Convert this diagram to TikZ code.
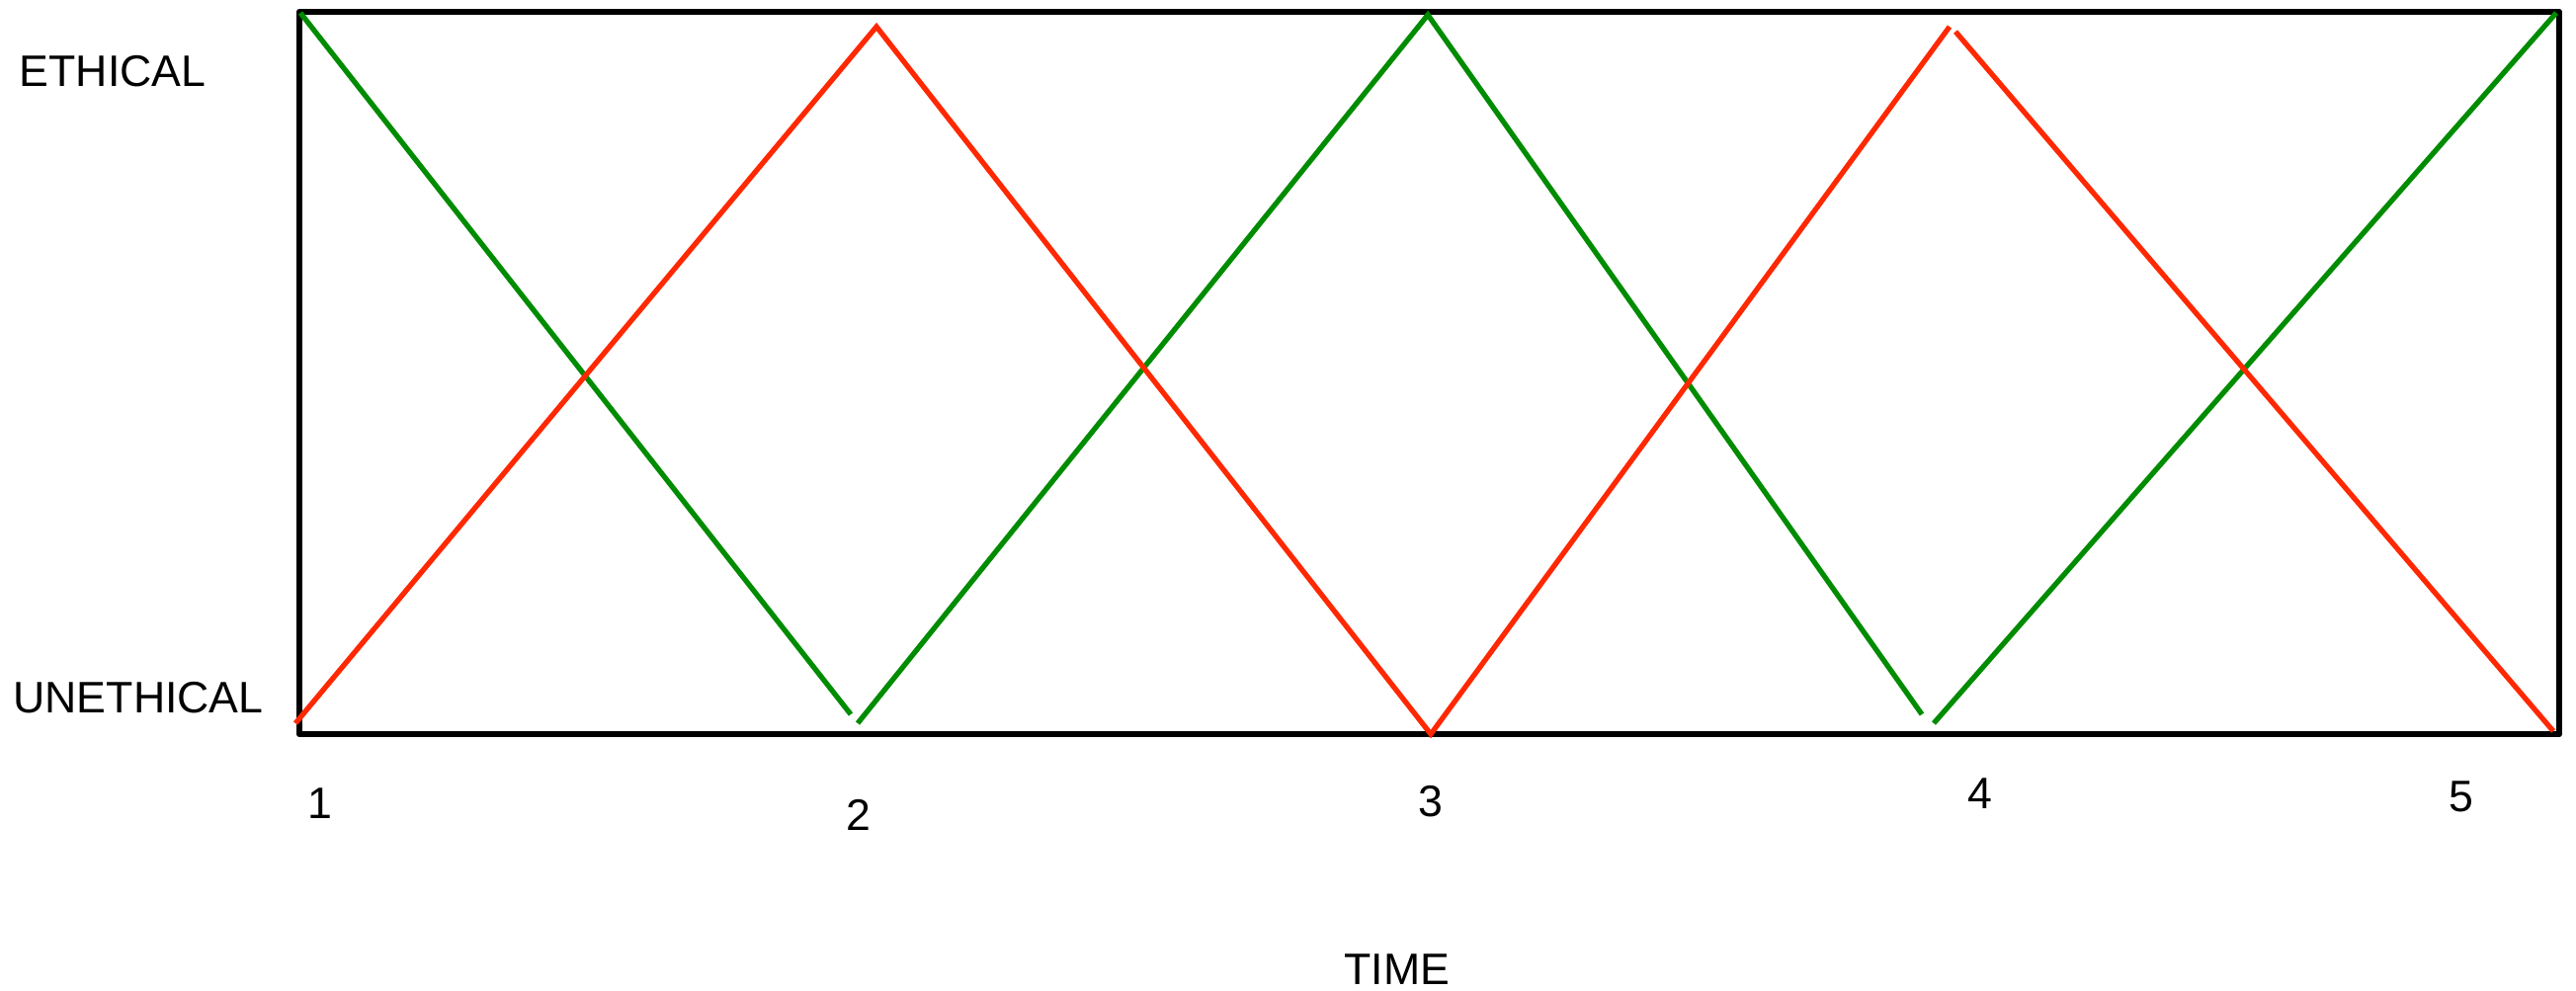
\documentclass[tikz,border=0pt]{standalone}
\usepackage{fontspec}
\setmainfont{Liberation Sans}
\usetikzlibrary{positioning}
\definecolor{ethicgreen}{RGB}{0,140,0}
\definecolor{ethicred}{RGB}{255,40,0}

\begin{document}
\begin{tikzpicture}[
    x=0.01cm, y=-0.01cm,
    every node/.style={align=center, inner sep=0pt, font=\fontsize{12.7}{15}\selectfont},
    frame/.style={draw=black, line width=1.8pt, line join=round},
    goodline/.style={draw=ethicgreen, line width=1.5pt},
    badline/.style={draw=ethicred, line width=1.5pt}
]
\useasboundingbox (0,0) rectangle (2607,1002);

% Frame
\draw[frame] (303,12) rectangle (2590,743);

% Axis labels
\node (ethical) at (114,72) {ETHICAL};
\node (unethical) at (140,706) {UNETHICAL};
\node (time) at (1414,981) {TIME};

% Time marks
\node (t1) at (324,813) {1};
\node (t2) at (869,825) {2};
\node (t3) at (1448,811) {3};
\node (t4) at (2004,803) {4};
\node (t5) at (2491,806) {5};

% Green turning points
\coordinate (g0) at (304,13);
\coordinate (g1) at (861,723);
\coordinate (g1b) at (868,732);
\coordinate (g2) at (1445,15);
\coordinate (g3) at (1945,723);
\coordinate (g3b) at (1957,732);
\coordinate (g4) at (2587,13);

% Red turning points
\coordinate (r0) at (299,732);
\coordinate (r1) at (887,27);
\coordinate (r2) at (1448,743);
\coordinate (r3) at (1973,27);
\coordinate (r3b) at (1979,32);
\coordinate (r4) at (2584,740);

% Green zigzag
\draw[goodline] (g0) -- (g1);
\draw[goodline] (g1b) -- (g2) -- (g3);
\draw[goodline] (g3b) -- (g4);

% Red zigzag
\draw[badline] (r0) -- (r1) -- (r2) -- (r3);
\draw[badline] (r3b) -- (r4);

\end{tikzpicture}
\end{document}
